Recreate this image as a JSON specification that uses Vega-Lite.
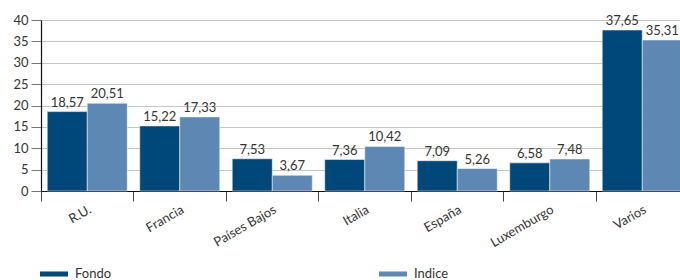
{
  "$schema": "https://vega.github.io/schema/vega-lite/v6.json",
  "autosize": {"type": "none"},
  "padding": {"left": 41, "top": 20, "right": 0, "bottom": 89},
  "width": 639,
  "height": 171,
  "background": "white",
  "config": {
    "view": {"stroke": null},
    "font": "Lato",
    "axis": {"labelFont": "Lato", "labelFontSize": 13, "labelColor": "#333"}
  },
  "data": {
    "values": [
      {"pais": "R.U.", "serie": "Fondo", "valor": 18.57, "etiqueta": "18,57"},
      {"pais": "R.U.", "serie": "Indice", "valor": 20.51, "etiqueta": "20,51"},
      {"pais": "Francia", "serie": "Fondo", "valor": 15.22, "etiqueta": "15,22"},
      {"pais": "Francia", "serie": "Indice", "valor": 17.33, "etiqueta": "17,33"},
      {"pais": "Países Bajos", "serie": "Fondo", "valor": 7.53, "etiqueta": "7,53"},
      {"pais": "Países Bajos", "serie": "Indice", "valor": 3.67, "etiqueta": "3,67"},
      {"pais": "Italia", "serie": "Fondo", "valor": 7.36, "etiqueta": "7,36"},
      {"pais": "Italia", "serie": "Indice", "valor": 10.42, "etiqueta": "10,42"},
      {"pais": "España", "serie": "Fondo", "valor": 7.09, "etiqueta": "7,09"},
      {"pais": "España", "serie": "Indice", "valor": 5.26, "etiqueta": "5,26"},
      {"pais": "Luxemburgo", "serie": "Fondo", "valor": 6.58, "etiqueta": "6,58"},
      {"pais": "Luxemburgo", "serie": "Indice", "valor": 7.48, "etiqueta": "7,48"},
      {"pais": "Varios", "serie": "Fondo", "valor": 37.65, "etiqueta": "37,65"},
      {"pais": "Varios", "serie": "Indice", "valor": 35.31, "etiqueta": "35,31"}
    ]
  },
  "encoding": {
    "x": {
      "field": "pais", "type": "nominal", "sort": null,
      "scale": {"range": [0, 647.5], "paddingInner": 0, "paddingOuter": 0},
      "axis": {
        "title": null, "labelAngle": -30, "bandPosition": 0,
        "tickSize": 10, "tickColor": "#444", "domainColor": "#111", "domainWidth": 1.2,
        "labelPadding": 2, "grid": false
      }
    },
    "xOffset": {
      "field": "serie", "type": "nominal",
      "scale": {"paddingInner": 0, "paddingOuter": 0.156}
    },
    "y": {
      "field": "valor", "type": "quantitative",
      "scale": {"domain": [0, 40], "nice": false},
      "axis": {
        "title": null, "values": [0, 5, 10, 15, 20, 25, 30, 35, 40],
        "tickSize": 10, "tickColor": "#777", "domainColor": "#111", "domainWidth": 1.2,
        "gridColor": "#c4c4c4", "gridWidth": 1, "labelPadding": 3
      }
    }
  },
  "layer": [
    {
      "mark": {"type": "bar", "stroke": "white", "strokeWidth": 0.5},
      "encoding": {
        "color": {
          "field": "serie", "type": "nominal",
          "scale": {"domain": ["Fondo", "Indice"], "range": ["#00477a", "#5d88b4"]},
          "legend": {
            "title": null, "orient": "none", "legendX": -1, "legendY": 240,
            "direction": "horizontal", "columns": 2, "columnPadding": 267,
            "symbolType": "M-1,-0.18H1V0.18H-1Z", "symbolSize": 784,
            "symbolStrokeWidth": 0, "labelFontSize": 13, "labelColor": "#333",
            "labelFont": "Lato", "labelOffset": 7, "padding": 0
          }
        }
      }
    },
    {
      "mark": {"type": "text", "baseline": "bottom", "dy": -2, "fontSize": 13, "color": "#333", "font": "Lato"},
      "encoding": {"text": {"field": "etiqueta"}}
    }
  ]
}
